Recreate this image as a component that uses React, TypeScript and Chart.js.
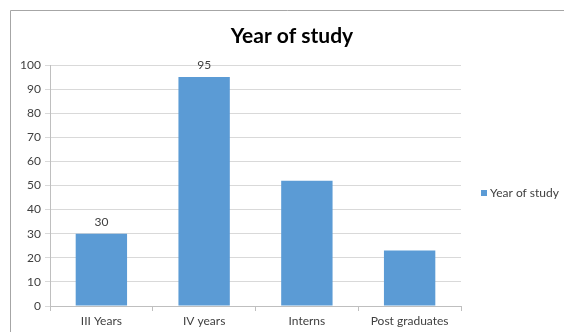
import React, { useEffect, useRef } from "react";
import { Chart, registerables } from "chart.js";

Chart.register(...registerables);

const categories = ["III Years", "IV years", "Interns", "Post graduates"];
const values = [30, 95, 52, 23];
const shownLabels: (number | null)[] = [30, 95, null, null];
const seriesName = "Year of study";
const titleText = "Year of study";
const yMin = 0;
const yMax = 100;
const yStep = 10;

const BAR_COLOR = "#5B9BD5";
const FONT = "Lato, 'Open Sans', 'Liberation Sans', sans-serif";

export default function App() {
  const ref = useRef<HTMLCanvasElement | null>(null);

  useEffect(() => {
    if (!ref.current) return;
    const decor = {
      id: "decor",
      beforeDraw(chart: any) {
        const ctx = chart.ctx;
        ctx.save();
        ctx.fillStyle = "#ffffff";
        ctx.fillRect(0, 0, chart.width, chart.height);
        ctx.strokeStyle = "#a6a6a6";
        ctx.lineWidth = 1;
        ctx.beginPath();
        ctx.moveTo(10.5, chart.height + 5);
        ctx.lineTo(10.5, 10.5);
        ctx.lineTo(chart.width + 5, 10.5);
        ctx.stroke();
        ctx.restore();
      },
      afterDraw(chart: any) {
        const ctx = chart.ctx;
        ctx.save();
        // title
        ctx.fillStyle = "#000000";
        ctx.font = `bold 21px ${FONT}`;
        ctx.textAlign = "center";
        ctx.textBaseline = "middle";
        ctx.fillText(titleText, 292, 36);
        // data labels
        const meta = chart.getDatasetMeta(0);
        ctx.font = `12px ${FONT}`;
        ctx.fillStyle = "#404040";
        ctx.textBaseline = "bottom";
        meta.data.forEach((bar: any, i: number) => {
          const v = shownLabels[i];
          if (v === null || v === undefined) return;
          ctx.fillText(String(v), bar.x, bar.y - 6);
        });
        // legend
        ctx.fillStyle = BAR_COLOR;
        ctx.fillRect(481, 190, 6, 6);
        ctx.fillStyle = "#404040";
        ctx.textAlign = "left";
        ctx.textBaseline = "middle";
        ctx.font = `12px ${FONT}`;
        ctx.fillText(seriesName, 490, 193.5);
        ctx.restore();
      },
    };

    const chart = new Chart(ref.current, {
      type: "bar",
      data: {
        labels: categories,
        datasets: [
          {
            label: seriesName,
            data: values,
            backgroundColor: BAR_COLOR,
            borderWidth: 0,
            categoryPercentage: 1,
            barPercentage: 0.5,
          },
        ],
      },
      options: {
        responsive: false,
        animation: false,
        devicePixelRatio: 1,
        layout: { padding: { left: 0, top: 65, right: 103, bottom: 0 } },
        plugins: {
          legend: { display: false },
          title: { display: false },
          tooltip: { enabled: false },
        },
        scales: {
          x: {
            grid: {
              display: true,
              offset: true,
              drawOnChartArea: false,
              drawTicks: true,
              tickLength: 5,
              color: "#bfbfbf",
            },
            border: { display: true, color: "#bfbfbf" },
            ticks: {
              color: "#404040",
              font: { family: FONT, size: 12 },
              padding: 3,
              maxRotation: 0,
            },
            afterFit(scale: any) {
              scale.height = 26;
            },
          },
          y: {
            min: yMin,
            max: yMax,
            grid: {
              color: "#d9d9d9",
              drawTicks: true,
              tickLength: 5,
            },
            border: { display: true, color: "#bfbfbf" },
            ticks: {
              stepSize: yStep,
              color: "#404040",
              font: { family: FONT, size: 12 },
              padding: 4,
            },
            afterFit(scale: any) {
              scale.width = 50;
            },
          },
        },
      },
      plugins: [decor],
    });
    return () => chart.destroy();
  }, []);

  return (
    <div style={{ position: "absolute", left: 0, top: 0, width: 564, height: 332 }}>
      <canvas ref={ref} width={564} height={332} style={{ display: "block", width: 564, height: 332 }} />
    </div>
  );
}
